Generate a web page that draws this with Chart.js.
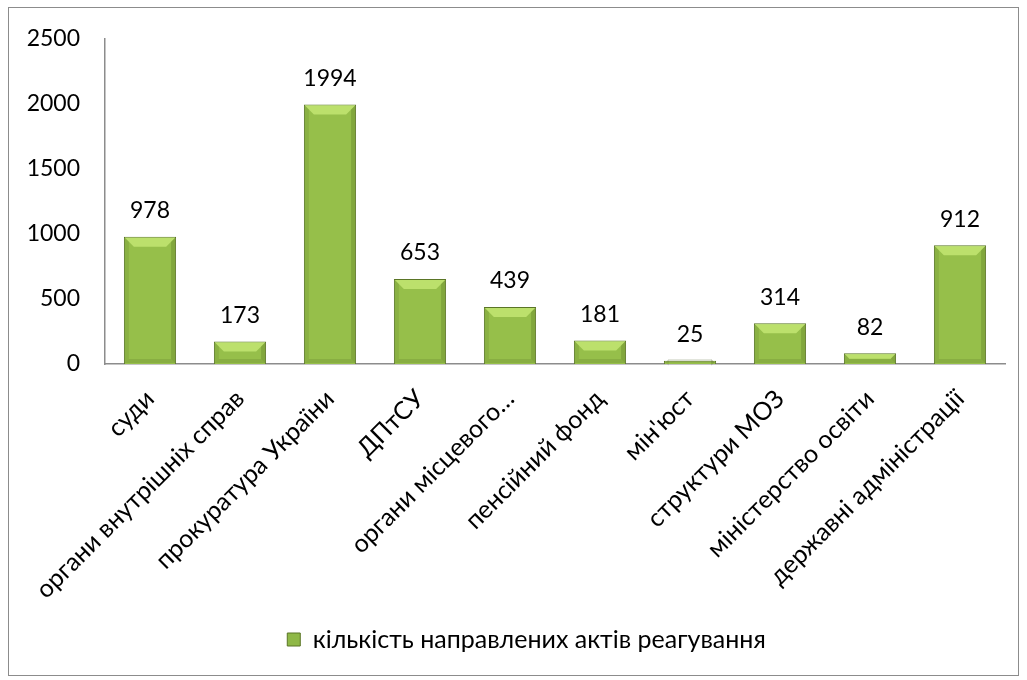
<!DOCTYPE html>
<html lang="uk">
<head>
<meta charset="utf-8">
<script src="https://cdn.jsdelivr.net/npm/chart.js@4/dist/chart.umd.min.js"></script>
<style>
  html, body { margin: 0; padding: 0; background: #fff; }
  #wrap { position: relative; width: 1027px; height: 680px; }
  #ramka { position: absolute; left: 8px; top: 7px; width: 1009px; height: 667px;
           border: 1px solid #8c8c8c; pointer-events: none; }
</style>
</head>
<body>
<div id="wrap">
  <canvas id="grafik" width="1027" height="680"></canvas>
  <div id="ramka"></div>
</div>
<script>
// органи, куди направлено акти реагування
const ORGANY = [
  "суди", "органи внутрішніх справ", "прокуратура України", "ДПтСУ",
  "органи місцевого…", "пенсійний фонд", "мін'юст", "структури МОЗ",
  "міністерство освіти", "державні адміністрації",
];
const KILKIST = [978, 173, 1994, 653, 439, 181, 25, 314, 82, 912];
const NAZVA_SERII = "кількість направлених актів реагування";
const Y_MAX = 2500, Y_KROK = 500;

const SHRYFT = "Lato, 'Open Sans', sans-serif";
const ZELENYI = "#96bf4a";
const KRAI = "#5a7526";

// вертикальний градієнт: світліший верх, темніший низ
function zalyvka(ctx) {
  const el = ctx.chart.getDatasetMeta(0).data[ctx.dataIndex];
  if (!el || !isFinite(el.y) || !isFinite(el.base)) return ZELENYI;
  const g = ctx.chart.ctx.createLinearGradient(0, el.y, 0, el.base);
  g.addColorStop(0, "#a6cf55");
  g.addColorStop(1, "#87aa3b");
  return g;
}

// фаски стовпця + підписи значень
const faska = {
  id: "faska",
  // легенда в оригіналі трохи правіше центру
  afterLayout(chart) { if (chart.legend) chart.legend.left += 48; },
  afterDatasetsDraw(chart) {
    const c = chart.ctx;
    chart.getDatasetMeta(0).data.forEach((el, i) => {
      const w = el.width, l = el.x - w / 2 + 1, r = el.x + w / 2 - 1, t = el.y + 1, b = el.base - 1;
      const h = Math.min(9, (b - t) / 2);
      c.save();
      // верхня світла фаска
      c.fillStyle = "rgba(200,235,120,0.75)";
      c.beginPath();
      c.moveTo(l, t); c.lineTo(r, t); c.lineTo(r - h, t + h); c.lineTo(l + h, t + h);
      c.closePath(); c.fill();
      // права темна фаска
      c.fillStyle = "rgba(60,80,20,0.22)";
      c.beginPath();
      c.moveTo(r, t); c.lineTo(r, b); c.lineTo(r - 4, b - 4); c.lineTo(r - 4, t + 4);
      c.closePath(); c.fill();
      // ліва фаска
      c.fillStyle = "rgba(60,80,20,0.12)";
      c.beginPath();
      c.moveTo(l, t); c.lineTo(l, b); c.lineTo(l + 4, b - 4); c.lineTo(l + 4, t + 4);
      c.closePath(); c.fill();
      // нижня фаска
      c.fillStyle = "rgba(60,80,20,0.15)";
      c.beginPath();
      c.moveTo(l, b); c.lineTo(r, b); c.lineTo(r - 4, b - 4); c.lineTo(l + 4, b - 4);
      c.closePath(); c.fill();
      c.fillStyle = "#000";
      c.font = "23px " + SHRYFT;
      c.textAlign = "center"; c.textBaseline = "middle";
      c.fillText(String(KILKIST[i]), el.x, el.y - 26);
      c.restore();
    });
  },
};

new Chart(document.getElementById("grafik"), {
  type: "bar",
  data: {
    labels: ORGANY,
    datasets: [{
      label: NAZVA_SERII, data: KILKIST,
      backgroundColor: zalyvka, borderColor: KRAI, borderWidth: 1,
      categoryPercentage: 1, barPercentage: 0.58,
    }],
  },
  options: {
    responsive: false, animation: false, devicePixelRatio: 1,
    layout: { padding: { top: 36, right: 22, bottom: 18, left: 0 } },
    plugins: {
      tooltip: { enabled: false },
      legend: {
        position: "bottom",
        labels: {
          color: "#000", font: { family: SHRYFT, size: 25 }, boxWidth: 13, boxHeight: 13, padding: 9,
          generateLabels: () => [{ text: NAZVA_SERII, fillStyle: "#8fb847", strokeStyle: KRAI, lineWidth: 1 }],
        },
      },
    },
    scales: {
      x: {
        grid: { display: false, drawTicks: false },
        border: { display: true, color: "#8c8c8c", width: 1.5 },
        ticks: { color: "#000", font: { family: SHRYFT, size: 25 }, minRotation: 45, maxRotation: 45,
                 autoSkip: false, padding: 20 },
        afterFit: (s) => { s.height = 254; },
      },
      y: {
        min: 0, max: Y_MAX,
        grid: { display: false, drawTicks: false },
        border: { display: true, color: "#8c8c8c", width: 1.5 },
        ticks: { color: "#000", font: { family: SHRYFT, size: 23 }, stepSize: Y_KROK, padding: 25,
                 callback: (v) => String(v) },
        afterFit: (s) => { s.width = 105; },
      },
    },
  },
  plugins: [faska],
});
</script>
</body>
</html>
